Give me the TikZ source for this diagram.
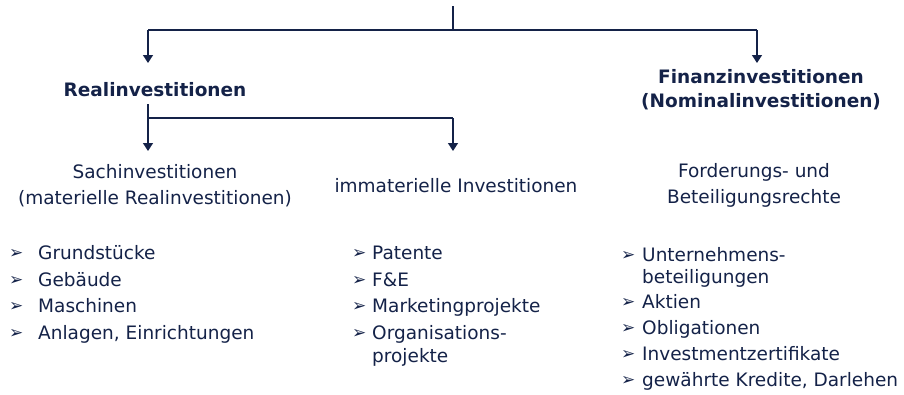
\documentclass[tikz,border=0pt]{standalone}
\usepackage{fontspec}
\setmainfont{DejaVu Sans}
\usetikzlibrary{arrows.meta}
\definecolor{navy}{RGB}{20,34,72}
\tikzset{
  conn/.style={draw=navy, line width=1.4pt},
  arr/.style={conn, -{Triangle[width=10pt,length=8pt]}},
  head/.style={text=navy, font=\bfseries\fontsize{18.5}{24}\selectfont, align=center, inner sep=0pt},
  sub/.style={text=navy, font=\fontsize{18.5}{26}\selectfont, align=center, inner sep=0pt},
  item/.style={text=navy, font=\fontsize{18.5}{20}\selectfont, anchor=base west, inner sep=0pt},
  bul/.style={text=navy, font=\fontsize{17}{18}\selectfont, anchor=base west, inner sep=0pt},
}
\begin{document}
\begin{tikzpicture}[x=1pt,y=-1pt]
\useasboundingbox (0,0) rectangle (904,394);
% connectors
\coordinate (top) at (453,6);
\coordinate (j1) at (453,30);
\coordinate (l1) at (148,30);
\coordinate (r1) at (757,30);
\coordinate (lt) at (148,63);
\coordinate (rt) at (757,63);
\draw[conn] (top) -- (j1);
\draw[conn] (l1) -- (r1);
\draw[arr] (l1) -- (lt);
\draw[arr] (r1) -- (rt);

\node[head] (real) at (155,90) {Realinvestitionen};
\node[head] (fin) at (761,90) {Finanzinvestitionen\\(Nominalinvestitionen)};

\coordinate (s0) at (148,104);
\coordinate (s1) at (148,118);
\coordinate (s2) at (453,118);
\coordinate (st1) at (148,151);
\coordinate (st2) at (453,151);
\draw[conn] (s0) -- (s1) -- (s2);
\draw[arr] (s1) -- (st1);
\draw[arr] (s2) -- (st2);

\node[sub] (sach) at (155,186) {Sachinvestitionen\\(materielle Realinvestitionen)};
\node[sub] (imm) at (456,186) {immaterielle Investitionen};
\node[sub] (ford) at (754,185) {Forderungs- und\\Beteiligungsrechte};

% left list
\foreach \t/\y [count=\i] in {Grundstücke/253,Gebäude/280,Maschinen/306,{Anlagen, Einrichtungen}/333}{
  \node[bul] (lb\i) at (9,\y+5.5) {➢};
  \node[item] (li\i) at (38,\y+6.5) {\t};
}
% middle list
\foreach \t/\y [count=\i] in {Patente/253,F\&E/280,Marketingprojekte/306,Organisations-/333}{
  \node[bul] (mb\i) at (352,\y+5.5) {➢};
  \node[item] (mi\i) at (372,\y+6.5) {\t};
}
\node[item] (mi5) at (372,356+6.5) {projekte};
% right list
\foreach \t/\y [count=\i] in {Unternehmens-/255,Aktien/302,Obligationen/328,Investmentzertifikate/354,{gewährte Kredite, Darlehen}/380}{
  \node[bul] (rb\i) at (621,\y+5.5) {➢};
  \node[item] (ri\i) at (642,\y+6.5) {\t};
}
\node[item] (ri6) at (642,277+6.5) {beteiligungen};
\end{tikzpicture}
\end{document}
